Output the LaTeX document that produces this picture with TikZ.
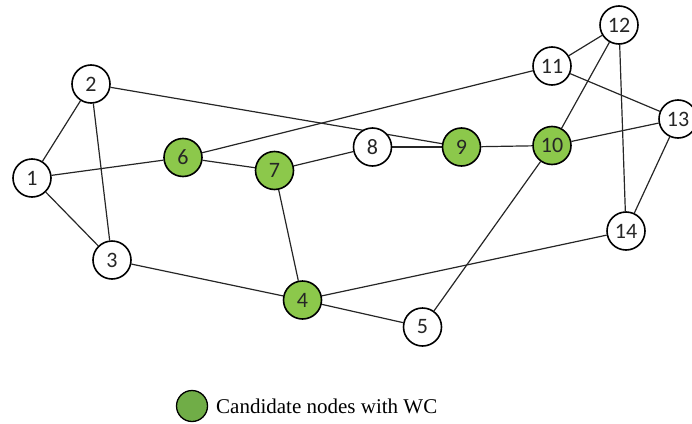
\documentclass[tikz,border=0pt]{standalone}
\usepackage{fontspec}
\setmainfont{Liberation Serif}
\newfontfamily\numfont{Carlito}
\usetikzlibrary{backgrounds}
\definecolor{candgreen}{RGB}{140,200,75}
\definecolor{leggreen}{RGB}{112,173,71}
\begin{document}
\begin{tikzpicture}[x=1pt,y=-1pt,
  vnode/.style={circle,draw=black,line width=1.6pt,fill=white,minimum size=38pt,inner sep=0pt,text=black!85,font=\numfont\fontsize{22}{22}\selectfont},
  cnode/.style={vnode,fill=candgreen},
  legnode/.style={circle,draw=black,line width=1.3pt,fill=leggreen,minimum size=31pt,inner sep=0pt},
  edge/.style={line width=1.2pt,black!85}]
\useasboundingbox (0,0) rectangle (692,423);
\clip (0,0) rectangle (692,423);
\node[vnode] (n1) at (32,178) {1};
\node[vnode] (n2) at (91,84) {2};
\node[vnode] (n3) at (112,260) {3};
\node[cnode] (n4) at (302.5,300) {4};
\node[vnode] (n5) at (422.5,327) {5};
\node[cnode] (n6) at (183,157.5) {6};
\node[cnode] (n7) at (274.5,170.5) {7};
\node[vnode] (n8) at (372.5,147) {8};
\node[cnode] (n9) at (461.5,147) {9};
\node[cnode] (n10) at (552,145.5) {10};
\node[vnode] (n11) at (552,66) {11};
\node[vnode] (n12) at (619,25) {12};
\node[vnode] (n13) at (678,119) {13};
\node[vnode] (n14) at (626,231) {14};
\begin{scope}[on background layer]
\draw[edge] (n1) -- (n2);
\draw[edge] (n1) -- (n3);
\draw[edge] (n1) -- (n6);
\draw[edge] (n2) -- (n3);
\draw[edge] (n2) -- (n9);
\draw[edge] (n6) -- (n11);
\draw[edge] (n6) -- (n7);
\draw[edge] (n7) -- (n4);
\draw[edge] (n7) -- (n8);
\draw[edge] (n8) -- (n9);
\draw[edge] (n9) -- (n10);
\draw[edge] (n10) -- (n12);
\draw[edge] (n10) -- (n13);
\draw[edge] (n10) -- (n5);
\draw[edge] (n11) -- (n12);
\draw[edge] (n11) -- (n13);
\draw[edge] (n12) -- (n14);
\draw[edge] (n13) -- (n14);
\draw[edge] (n3) -- (n4);
\draw[edge] (n4) -- (n5);
\draw[edge] (n4) -- (n14);
\end{scope}
\node[legnode] (leg) at (192,406) {};
\node[anchor=west,font=\fontsize{21}{21}\selectfont,inner sep=0pt] (legtext) at (216,406) {Candidate nodes with WC};
\end{tikzpicture}
\end{document}
